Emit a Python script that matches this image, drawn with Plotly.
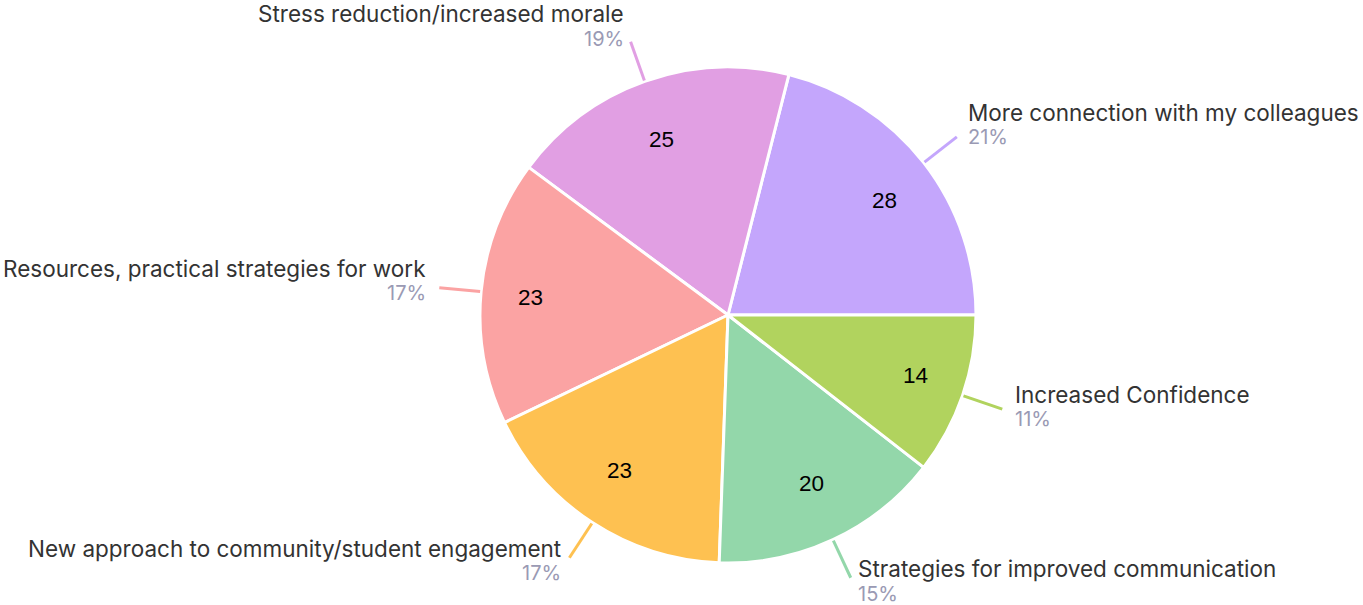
import math
import plotly.graph_objects as go

labels = [
    "More connection with my colleagues",
    "Stress reduction/increased morale",
    "Resources, practical strategies for work",
    "New approach to community/student engagement",
    "Strategies for improved communication",
    "Increased Confidence",
]
values = [28, 25, 23, 23, 20, 14]
colors = ["#c4a6fc", "#e19fe3", "#fba3a3", "#fec151", "#93d7aa", "#b1d35e"]

W, H = 1363, 605
CX, CY, R = 728, 315, 248

total = sum(values)
# Plotly's counterclockwise pies end the first slice at `rotation`;
# shift so the first slice starts at 3 o'clock.
rotation = 90 - values[0] / total * 360

fig = go.Figure(go.Pie(
    labels=labels, values=values, sort=False,
    direction="counterclockwise", rotation=rotation,
    marker=dict(colors=colors, line=dict(color="white", width=3)),
    textinfo="none", hoverinfo="label+value+percent",
    domain=dict(x=[(CX - R) / W, (CX + R) / W], y=[(H - CY - R) / H, (H - CY + R) / H]),
    showlegend=False,
))

def px(x):
    return x / W

def py(y):
    return 1 - y / H

start = 0.0
annotations = []
shapes = []
for lab, v, col in zip(labels, values, colors):
    span = v / total * 360
    mid = math.radians(start + span / 2)
    start += span
    c, s = math.cos(mid), math.sin(mid)
    # inside value
    ix, iy = CX + 0.80 * R * c, CY - 0.75 * R * s
    annotations.append(dict(x=px(ix), y=py(iy), xref="paper", yref="paper", text=str(v),
                            showarrow=False, xanchor="center", yanchor="middle",
                            font=dict(family="Liberation Sans, Arial", size=22.5, color="#000")))
    # leader line
    sx, sy = CX + (R + 1) * c, CY - (R + 1) * s
    ex, ey = CX + 290 * c, CY - 290 * s
    shapes.append(dict(type="line", xref="paper", yref="paper", x0=px(sx), y0=py(sy), x1=px(ex), y1=py(ey),
                       line=dict(color=col, width=3)))
    off = 1 + 10 * abs(c)
    if c >= 0:
        tx, anchor = ex + off, "left"
    else:
        tx, anchor = ex - off, "right"
    bc = ey - 5.9 - 10.4 * s
    pct = round(v / total * 100)
    annotations.append(dict(x=px(tx), y=py(bc - 12.5), xref="paper", yref="paper", text=lab,
                            showarrow=False, xanchor=anchor, yanchor="middle",
                            font=dict(family="Inter, Lato, sans-serif", size=22.5, color="#333333")))
    annotations.append(dict(x=px(tx), y=py(bc + 12.5), xref="paper", yref="paper", text=f"{pct}%",
                            showarrow=False, xanchor=anchor, yanchor="middle",
                            font=dict(family="Inter, Lato, sans-serif", size=20, color="#9a9ab4")))

fig.update_layout(
    width=W, height=H,
    margin=dict(l=0, r=0, t=0, b=0),
    paper_bgcolor="white", plot_bgcolor="white",
    annotations=annotations, shapes=shapes,
)

fig.write_html("out.html", config={"displayModeBar": False},
               post_script="document.body.style.margin='0';document.body.style.overflow='hidden';")
